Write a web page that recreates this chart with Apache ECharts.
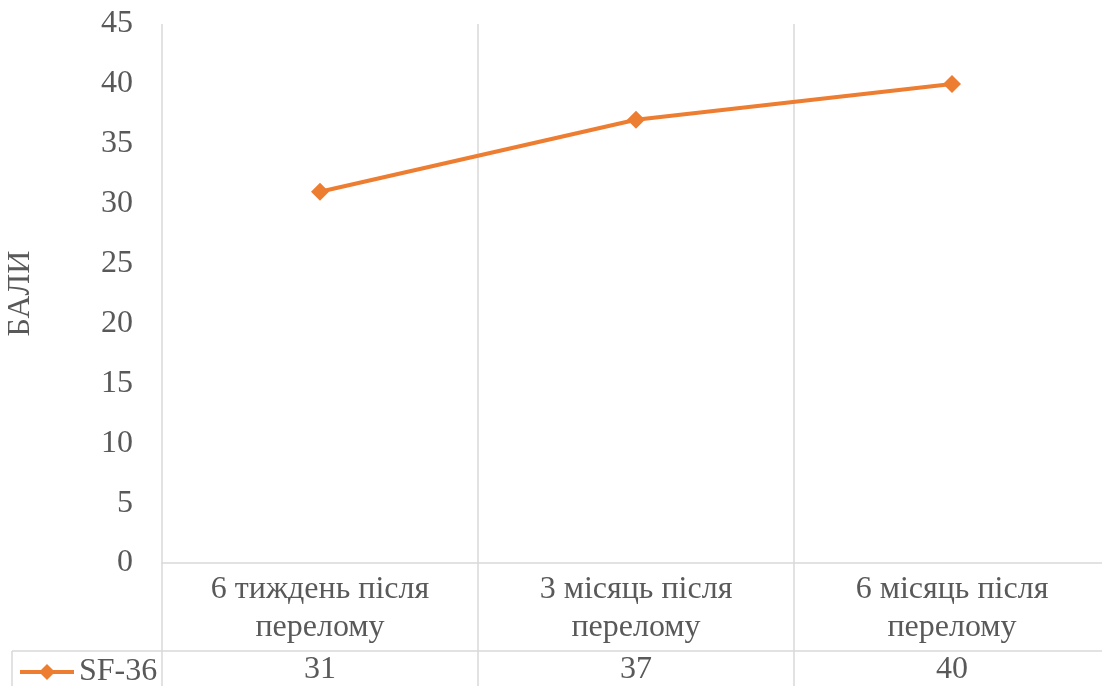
<!DOCTYPE html>
<html>
<head>
<meta charset="utf-8">
<script src="https://cdn.jsdelivr.net/npm/echarts@6/dist/echarts.min.js"></script>
<style>
  html, body { margin: 0; padding: 0; background: #fff; }
  #chart { width: 1102px; height: 686px; }
</style>
</head>
<body>
<div id="chart"></div>
<script>
const categories = ['6 тиждень після\nперелому', '3 місяць після\nперелому', '6 місяць після\nперелому']
const seriesName = 'SF-36'
const values = [31, 37, 40]
const yTicks = { min: 0, max: 45, interval: 5 }

const font = "'Liberation Serif', 'Times New Roman', serif"
const textColor = '#595959'
const gridColor = '#d9d9d9'
const fontSize = 32

const chart = echarts.init(document.getElementById('chart'))
chart.setOption({
  animation: false,
  textStyle: { fontFamily: font },
  grid: [
    { left: 162, top: 24, width: 948, height: 539, outerBoundsMode: 'none', containLabel: false },
    { left: 162, top: 563, width: 948, height: 123, outerBoundsMode: 'none', containLabel: false } // data table rows
  ],
  legend: {
    data: [seriesName],
    left: 13,
    top: 651,
    itemWidth: 54,
    itemHeight: 20,
    itemGap: 5,
    lineStyle: { width: 4 },
    textStyle: { fontFamily: font, fontSize: fontSize, color: textColor }
  },
  xAxis: [
    {
      gridIndex: 0,
      type: 'category',
      data: categories,
      boundaryGap: true,
      axisLine: { lineStyle: { color: gridColor, width: 1.5 } },
      axisTick: { show: false },
      splitLine: { show: true, lineStyle: { color: gridColor, width: 1.5 } },
      axisLabel: {
        interval: 0,
        margin: 8,
        fontFamily: font,
        fontSize: fontSize,
        lineHeight: 38,
        color: textColor
      }
    },
    {
      gridIndex: 1,
      type: 'category',
      data: categories,
      boundaryGap: true,
      axisLine: { show: false },
      axisTick: { show: false },
      axisLabel: { show: false },
      splitLine: { show: true, lineStyle: { color: gridColor, width: 1.5 } }
    },
    {
      gridIndex: 0,
      type: 'category',
      position: 'bottom',
      offset: 88,
      data: values.map(String),
      axisLine: { lineStyle: { color: gridColor, width: 1.5 } },
      axisTick: { show: false },
      axisLabel: {
        interval: 0,
        margin: 3,
        fontFamily: font,
        fontSize: fontSize,
        color: textColor
      }
    }
  ],
  yAxis: [
    {
      gridIndex: 0,
      type: 'value',
      min: yTicks.min,
      max: yTicks.max,
      interval: yTicks.interval,
      name: 'БАЛИ',
      nameLocation: 'middle',
      nameRotate: 90,
      nameGap: 125,
      nameTextStyle: { fontFamily: font, fontSize: fontSize, color: textColor },
      axisLine: { show: false },
      axisTick: { show: false },
      splitLine: { show: false },
      axisLabel: { margin: 29, fontFamily: font, fontSize: fontSize, color: textColor }
    },
    { gridIndex: 1, type: 'value', show: false, splitLine: { show: false } }
  ],
  series: [
    {
      name: seriesName,
      type: 'line',
      xAxisIndex: 0,
      yAxisIndex: 0,
      data: values,
      color: '#ED7D31',
      lineStyle: { width: 4 },
      symbol: 'diamond',
      symbolSize: 18
    }
  ],
  graphic: [
    // legend cell borders of the data table
    { type: 'line', shape: { x1: 12, y1: 651, x2: 162, y2: 651 }, style: { stroke: gridColor, lineWidth: 1.5 } },
    { type: 'line', shape: { x1: 12, y1: 651, x2: 12, y2: 686 }, style: { stroke: gridColor, lineWidth: 1.5 } }
  ]
})
</script>
</body>
</html>
